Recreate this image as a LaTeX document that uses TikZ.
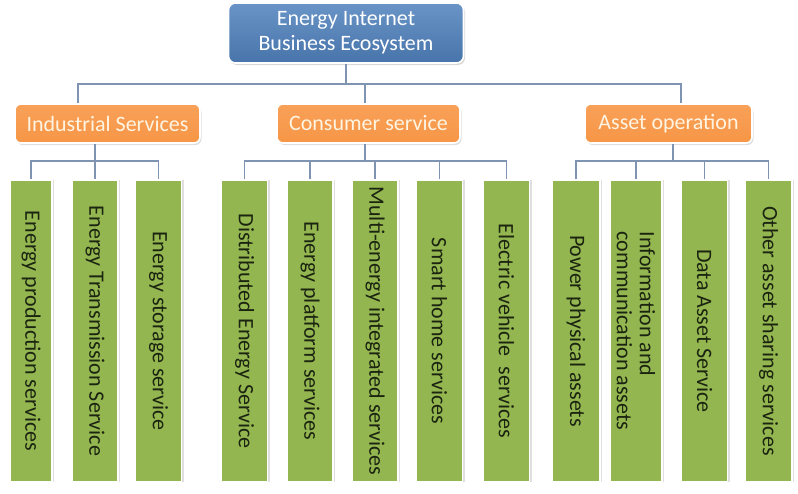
\documentclass[tikz,border=0pt]{standalone}
\usepackage{fontspec}
\setmainfont{Carlito}
\usetikzlibrary{positioning, shadows}
\definecolor{ecoBlue}{HTML}{4F81BD}
\definecolor{ecoOrange}{HTML}{F79646}
\definecolor{ecoGreen}{HTML}{93B650}
\definecolor{linkGray}{HTML}{7F93B2}
\definecolor{textDark}{HTML}{1B2410}
\definecolor{textCream}{HTML}{FFF4E2}

\begin{document}
\begin{tikzpicture}[x=1pt, y=-1pt,
    rootbox/.style={rectangle, rounded corners=7pt, draw=white, line width=1.6pt,
                    top color=ecoBlue!85!white, bottom color=ecoBlue!90!black,
                    minimum width=235pt, minimum height=60pt, align=center,
                    font=\fontsize{22}{25}\selectfont\color{white},
                    drop shadow={shadow xshift=1.5pt, shadow yshift=-2pt, fill=black!30}},
    groupbox/.style={rectangle, rounded corners=6pt, draw=white, line width=1.6pt,
                     top color=ecoOrange!90!white, bottom color=ecoOrange,
                     minimum height=39pt, minimum width=#1,
                     font=\fontsize{22}{25}\selectfont\color{textCream},
                     drop shadow={shadow xshift=1.5pt, shadow yshift=-2pt, fill=black!25}},
    leaf/.style={rectangle, draw=white, line width=1.4pt, fill=ecoGreen,
                 rotate=-90, minimum width=302pt, minimum height=#1,
                 inner sep=2pt, align=left,
                 font=\fontsize{22}{23}\selectfont\color{textDark},
                 drop shadow={shadow xshift=2pt, shadow yshift=0pt, fill=black!25}},
    leaf/.default=46pt,
    link/.style={draw=linkGray, line width=1.1pt},
  ]
    \useasboundingbox (0,0) rectangle (798,493);

    % top of the tree
    \node[rootbox] (root) at (346,33) {Energy Internet\\Business Ecosystem};

    % groups
    \node[groupbox=185pt] (ind) at (107.5,123.5) {Industrial Services};
    \node[groupbox=183pt] (con) at (368.5,123.5) {Consumer service};
    \node[groupbox=167pt] (ast) at (668.5,123.5) {Asset operation};

    % industrial services
    \node[leaf=42pt] (ind1) at (31,331) {Energy production services};
    \node[leaf] (ind2) at (95,331) {Energy Transmission Service};
    \node[leaf] (ind3) at (158.5,331) {Energy storage service};

    % consumer services
    \node[leaf] (con1) at (244.5,331) {Distributed Energy Service};
    \node[leaf] (con2) at (310,331) {Energy platform services};
    \node[leaf] (con3) at (375,331) {Multi-energy integrated services};
    \node[leaf] (con4) at (439.5,331) {Smart home services};
    \node[leaf] (con5) at (506.5,331) {Electric vehicle\ \ services};

    % asset operation
    \node[leaf=48pt] (ast1) at (576,331) {Power physical assets};
    \node[leaf=52pt] (ast2) at (636,331) {Information and\\communication assets};
    \node[leaf] (ast3) at (704.5,331) {Data Asset Service};
    \node[leaf=47pt] (ast4) at (768.5,331) {Other asset sharing services};

    % buses (leaf tops are their west anchors, the boxes being turned)
    \coordinate (topbus) at (0,84);
    \coordinate (lowbus) at (0,161);

    \draw[link] (root.south) -- (root.south |- topbus);
    \draw[link] ([xshift=-29.5pt]ind.north) |- ([xshift=12.5pt]ast.north |- topbus)
                -- ([xshift=12.5pt]ast.north);
    \draw[link] ([xshift=-3.5pt]con.north) -- ([xshift=-3.5pt]con.north |- topbus);

    \draw[link] (ind.south -| ind2.west) -- (ind2.west);
    \draw[link] (ind1.west) |- (ind3.west |- lowbus) -- (ind3.west);

    \draw[link] ([xshift=-3.5pt]con.south) -- ([xshift=-3.5pt]con.south |- lowbus);
    \draw[link] (con1.west) |- (con5.west |- lowbus) -- (con5.west);
    \foreach \k in {2,3,4}
      \draw[link] (con\k.west) -- (con\k.west |- lowbus);

    \draw[link] ([xshift=4.5pt]ast.south) -- ([xshift=4.5pt]ast.south |- lowbus);
    \draw[link] (ast1.west) |- (ast4.west |- lowbus) -- (ast4.west);
    \draw[link] (ast2.west) -- (ast2.west |- lowbus);
    \draw[link] (ast3.west) -- (ast3.west |- lowbus);
  \end{tikzpicture}
\end{document}
